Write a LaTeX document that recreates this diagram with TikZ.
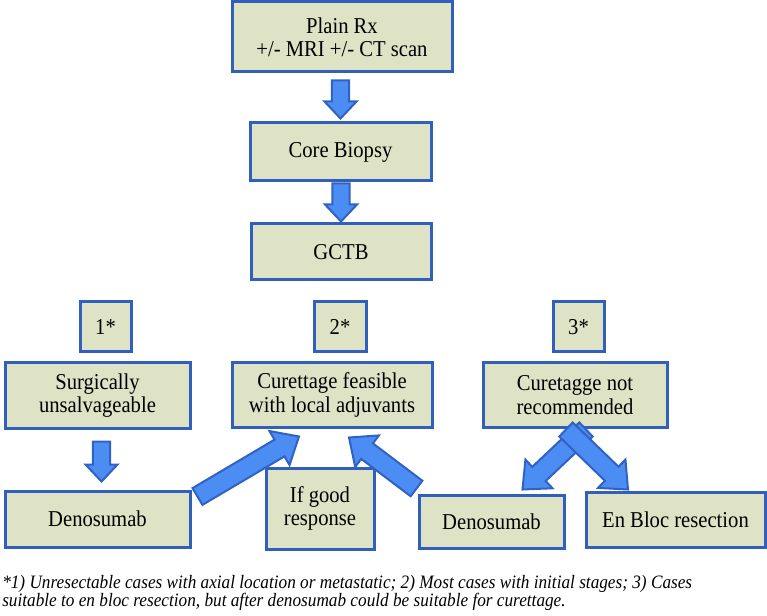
\documentclass[tikz,border=0pt]{standalone}
\usepackage{fontspec}
\setmainfont[FakeStretch=0.91]{Liberation Serif}
\usetikzlibrary{calc}
\definecolor{boxfill}{HTML}{DEE3C6}
\definecolor{boxline}{HTML}{3060BC}
\definecolor{arrfill}{HTML}{4C8DF3}
\definecolor{arrline}{HTML}{3062C4}
\tikzset{
  fbox/.style={draw=boxline, line width=2.25pt, fill=boxfill, align=center, inner sep=0pt,
    font=\fontsize{17}{17.5}\selectfont, text=black},
  blockarrow/.style={draw=arrline, fill=arrfill, line width=1.5pt, line join=miter},
  foot/.style={inner sep=0pt, font=\fontsize{14.2}{15}\selectfont\itshape, text=black}
}
% #1 start, #2 tip, #3 half shaft, #4 half head, #5 head length
\newcommand\barrow[5]{%
  \coordinate (ba-s) at #1;
  \coordinate (ba-e) at #2;
  \coordinate (ba-h) at ($(ba-e)!#5!(ba-s)$);
  \draw[blockarrow] ($(ba-s)!#3!90:(ba-e)$) -- ($(ba-h)!#3!90:(ba-e)$) -- ($(ba-h)!#4!90:(ba-e)$)
    -- (ba-e) -- ($(ba-h)!#4!-90:(ba-e)$) -- ($(ba-h)!#3!-90:(ba-e)$) -- ($(ba-s)!#3!-90:(ba-e)$) -- cycle;
}
\begin{document}
\begin{tikzpicture}[x=0.75pt, y=-0.75pt]
\useasboundingbox (0,0) rectangle (767,616);
\fill[white] (0,0) rectangle (767,616);

\node[fbox, minimum width=165pt, minimum height=52.5pt] (plain) at (342,37) {Plain Rx\\+/- MRI +/- CT scan};
\node[fbox, minimum width=135.75pt, minimum height=43.5pt] (core) at (340.5,152) {Core Biopsy};
\node[fbox, minimum width=135pt, minimum height=42pt] (gctb) at (341,252) {GCTB};

\node[fbox, minimum width=38.25pt, minimum height=37.5pt] (n1) at (105.5,327) {1*};
\node[fbox, minimum width=39pt, minimum height=37.5pt] (n2) at (340,327) {2*};
\node[fbox, minimum width=38.25pt, minimum height=37.5pt] (n3) at (578.5,327) {3*};

\node[fbox, minimum width=138.75pt, minimum height=48.75pt] (surg) at (97.5,395.5) {Surgically\\unsalvageable};
\node[fbox, minimum width=150pt, minimum height=48pt] (cur) at (332,395) {Curettage feasible\\with local adjuvants};
\node[fbox, minimum width=138pt, minimum height=48pt] (notrec) at (575,395) {Curetagge not\\recommended};

\node[fbox, minimum width=138.75pt, minimum height=42pt] (den1) at (97.5,519) {Denosumab};
\node[fbox, minimum width=81pt, minimum height=60.75pt] (good) at (320,508.5) {If good\\response};
\node[fbox, minimum width=108.75pt, minimum height=39.75pt] (den2) at (491.5,521.5) {Denosumab};
\node[fbox, minimum width=134.25pt, minimum height=41.25pt] (enbloc) at (675.5,519.5) {En Bloc resection};

% vertical arrows
\barrow{($(core.north)+(0,-41)$)}{($(core.north)+(0,-3)$)}{6.4pt}{12pt}{12.75pt}
\barrow{($(gctb.north)+(0,-39)$)}{($(gctb.north)+(0,-1)$)}{6.4pt}{12pt}{12.75pt}
\barrow{($(den1.north)+(4,-48)$)}{($(den1.north)+(4,-8)$)}{6.4pt}{12pt}{12.75pt}
% diagonal arrows
\barrow{($(den1.north east)+(6,7)$)}{($(cur.south)+(-33,8)$)}{7.3pt}{14.8pt}{17pt}
\barrow{($(den2.north west)+(-1,-5)$)}{($(cur.south)+(17,9)$)}{7.3pt}{14.8pt}{17pt}
\barrow{($(notrec.south)+(11,1)$)}{($(den2.north)+(31,-4)$)}{7.3pt}{14.8pt}{17pt}
\barrow{($(notrec.south)+(-9,1)$)}{($(enbloc.north)+(-47.5,-1)$)}{7.3pt}{14.8pt}{17pt}

\node[foot, anchor=base west] (fn1) at (2,588) {*1) Unresectable cases with axial location or metastatic; 2) Most cases with initial stages; 3) Cases};
\node[foot, anchor=base west] (fn2) at (2,606) {suitable to en bloc resection, but after denosumab could be suitable for curettage.};
\end{tikzpicture}
\end{document}
